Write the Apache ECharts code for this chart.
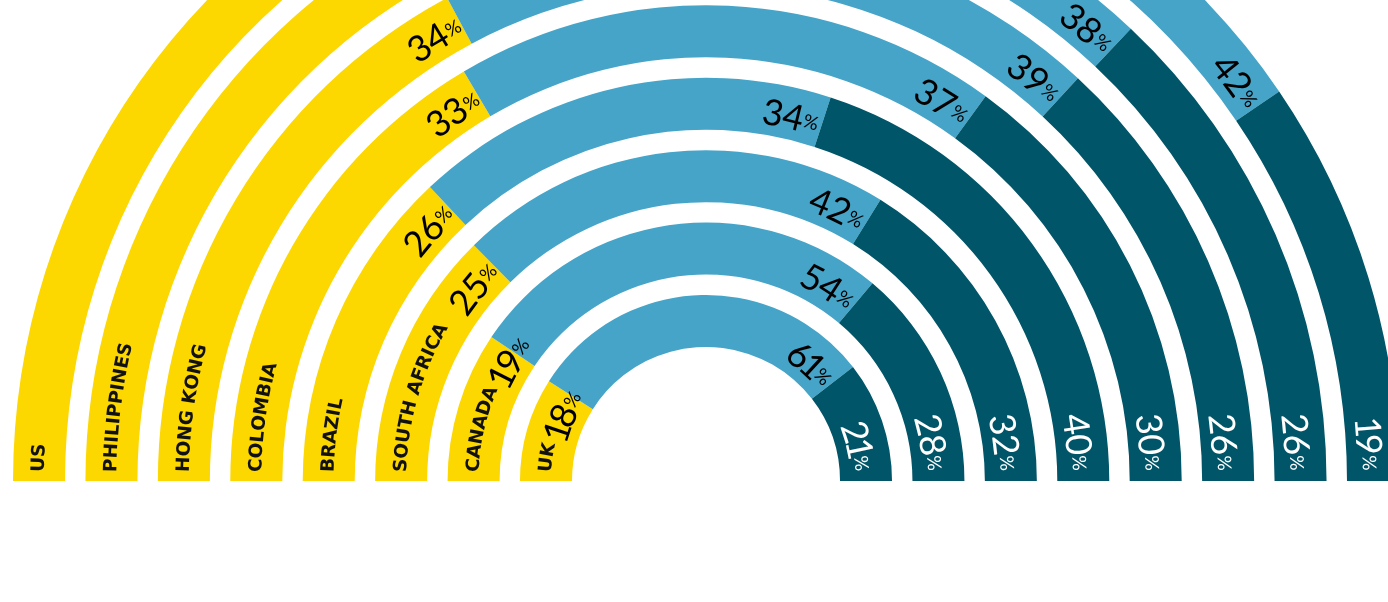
<!DOCTYPE html>
<html>
<head>
<meta charset="utf-8">
<script src="https://cdn.jsdelivr.net/npm/echarts@6/dist/echarts.min.js"></script>
<style>
  html, body { margin: 0; padding: 0; background: #ffffff; }
  #chart { width: 1388px; height: 602px; }
</style>
</head>
<body>
<div id="chart"></div>
<script>
// Rings from the inside out
const countries = ['UK', 'Canada', 'South Africa', 'Brazil', 'Colombia', 'Hong Kong', 'Philippines', 'US'];
// Share of respondents per answer group, in percent
const yellowShare = [18, 19, 25, 26, 33, 34, 36, 39];
const blueShare   = [61, 54, 42, 34, 37, 39, 38, 42];
const tealShare   = [21, 28, 32, 40, 30, 26, 26, 19];

const COLORS = { yellow: '#FCD700', blue: '#45A4C8', teal: '#015568' };

// Each ring spans exactly half a turn: 100 units on a 200-unit angle axis,
// so the rounded shares of a ring are scaled by that ring's total.
const totals = countries.map((_, i) => yellowShare[i] + blueShare[i] + tealShare[i]);
const toArc = arr => arr.map((v, i) => v / totals[i] * 100);

const NUM_FONT = 'Lato, "Noto Sans", sans-serif';
const NUM_SIZE = 36;
const PCT_SIZE = 19;
const NAME_FONT = '"DejaVu Sans", "Noto Sans", sans-serif';
const NAME_SIZE = 18.5;

const ringBar = (name, share, color) => ({
  name: name,
  type: 'bar',
  coordinateSystem: 'polar',
  stack: 'ring',
  barWidth: 52,
  data: toArc(share),
  itemStyle: { color: color },
  silent: true
});

// Glyph advances for text set along the arcs
const measureCtx = document.createElement('canvas').getContext('2d');
function advance(ch, font) {
  measureCtx.font = font;
  const w = measureCtx.measureText(ch).width;
  // proportional "1" so short numbers stay compact
  return ch === '1' ? w * 0.68 : w;
}

function nameGlyphs(text) {
  const font = 'bold ' + NAME_SIZE + 'px ' + NAME_FONT;
  return Array.from(text).map(ch => ({
    ch, w: advance(ch, font),
    style: { fontFamily: NAME_FONT, fontWeight: 'bold', fontSize: NAME_SIZE, fill: '#111111' }
  }));
}

function pctGlyphs(value, color) {
  const digitFont = NUM_SIZE + 'px ' + NUM_FONT;
  const pctFont = PCT_SIZE + 'px ' + NUM_FONT;
  const out = Array.from(String(value)).map(ch => ({
    ch, w: advance(ch, digitFont),
    style: { fontFamily: NUM_FONT, fontSize: NUM_SIZE, fill: color }
  }));
  out.push({
    ch: '%', w: advance('%', pctFont) + 1,
    style: { fontFamily: NUM_FONT, fontSize: PCT_SIZE, fill: color }
  });
  return out;
}

// Place glyphs along the ring, reading clockwise, starting at arc length startPx
function arcText(api, cx, cy, ringValue, r, startPx, glyphs, inset) {
  const children = [];
  let s = startPx;
  const rText = r - inset;
  for (const g of glyphs) {
    const u = (s + g.w / 2) / r * 100 / Math.PI;
    const pt = api.coord([ringValue, u]);
    const k = rText / r;
    children.push({
      type: 'text',
      x: cx + (pt[0] - cx) * k,
      y: cy + (pt[1] - cy) * k,
      rotation: Math.PI / 2 - u / 100 * Math.PI,
      style: Object.assign({ text: g.ch, align: 'center', verticalAlign: 'middle' }, g.style)
    });
    s += g.w;
  }
  return children;
}

const totalWidth = glyphs => glyphs.reduce((a, g) => a + g.w, 0);

function renderRingText(params, api) {
  const i = params.dataIndex;
  const cx = params.coordSys.cx;
  const cy = params.coordSys.cy;
  const ringValue = api.value(0);
  const r = cx - api.coord([ringValue, 0])[0];
  const unitPx = r * Math.PI / 100;

  const name = nameGlyphs(countries[i].toUpperCase());
  const nameStart = 9;
  const nameEnd = nameStart + totalWidth(name);

  const yEnd = yellowShare[i] / totals[i] * 100;
  const bEnd = (yellowShare[i] + blueShare[i]) / totals[i] * 100;
  const segments = [
    // the first value follows the name when its arc is too short for both
    { end: yEnd, value: yellowShare[i], color: '#000000', gap: 1, after: nameEnd + 6 },
    { end: bEnd, value: blueShare[i], color: '#000000', gap: 3, after: 0 },
    { end: 100, value: tealShare[i], color: '#ffffff', gap: 10, after: 0 }
  ];

  let children = arcText(api, cx, cy, ringValue, r, nameStart, name, 0);
  segments.forEach(seg => {
    const glyphs = pctGlyphs(seg.value, seg.color);
    const start = Math.max(seg.after, seg.end * unitPx - seg.gap - totalWidth(glyphs));
    children = children.concat(arcText(api, cx, cy, ringValue, r, start, glyphs, 4));
  });
  return { type: 'group', children: children };
}

const chart = echarts.init(document.getElementById('chart'), null, { renderer: 'canvas' });

chart.setOption({
  backgroundColor: '#ffffff',
  animation: false,
  polar: { center: [706, 481], radius: [123.8, 703.2] },
  angleAxis: {
    type: 'value', min: 0, max: 200, startAngle: 180, clockwise: true, show: false
  },
  radiusAxis: {
    type: 'category', data: countries, show: false
  },
  series: [
    ringBar('yellow', yellowShare, COLORS.yellow),
    ringBar('blue', blueShare, COLORS.blue),
    ringBar('teal', tealShare, COLORS.teal),
    {
      name: 'labels',
      type: 'custom',
      coordinateSystem: 'polar',
      clip: false,
      z: 5,
      silent: true,
      encode: { radius: 0, angle: 1 },
      data: countries.map(c => [c, 0]),
      renderItem: renderRingText
    }
  ]
});
</script>
</body>
</html>
